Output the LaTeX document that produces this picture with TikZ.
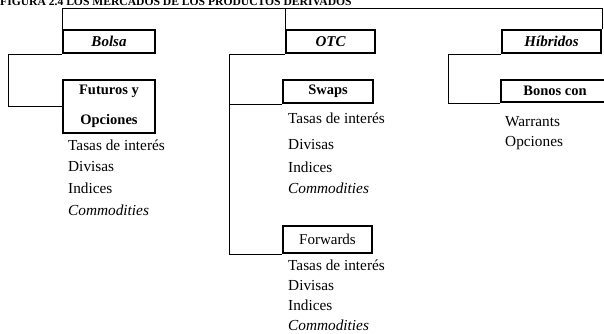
\documentclass[tikz,border=0pt]{standalone}
\usepackage{fontspec}
\setmainfont{Liberation Serif}
\begin{document}
\begin{tikzpicture}[x=1pt,y=-1pt,
  box/.style={draw, line width=2pt, inner sep=0pt, font=\fontsize{14.5}{16}\selectfont\bfseries},
  conn/.style={line width=0.9pt},
  item/.style={anchor=west, inner sep=0pt, font=\fontsize{15.3}{16}\selectfont}]
\useasboundingbox (0,0) rectangle (604,333);
\fill[white] (0,0) rectangle (604,333);
% title (cut at top, as in the reference)
\node[anchor=base west, inner sep=0pt, font=\fontsize{11.6}{12}\selectfont\bfseries] (title) at (0,5) {FIGURA 2.4 LOS MERCADOS DE LOS PRODUCTOS DERIVADOS};
% level 1
\node[box, minimum width=92, minimum height=23, font=\fontsize{15}{16}\selectfont\bfseries\itshape] (bolsa) at (109,41.5) {Bolsa};
\node[box, minimum width=89, minimum height=23, font=\fontsize{15}{16}\selectfont\bfseries\itshape] (otc) at (330.5,41.5) {OTC};
\node[box, minimum width=99, minimum height=23, font=\fontsize{15}{16}\selectfont\bfseries\itshape] (hib) at (551.5,41.5) {Híbridos};
% level 2
\node[box, minimum width=92, minimum height=53, align=center] (fut) at (109,106.5) {Futuros y\\[14pt]Opciones};
\node[box, minimum width=90, minimum height=23] (swaps) at (328,91.5) {Swaps};
\node[box, minimum width=89, minimum height=27, font=\fontsize{15}{16}\selectfont] (fwd) at (327.5,239.5) {Forwards};
\node[box, minimum width=108, minimum height=22, font=\fontsize{14.5}{16}\selectfont\bfseries] (bonos) at (555,91) {Bonos con};
% top connector
\coordinate (t1) at (63,8);
\draw[conn] (bolsa.north west) -- (bolsa.north west |- t1) -- (hib.north east |- t1) -- (hib.north east);
\draw[conn] (otc.north west) -- (otc.north west |- t1);
% Bolsa branch
\coordinate (b1) at (8,0);
\draw[conn] (bolsa.south west) -- (bolsa.south west -| b1) |- (fut.west);
% OTC branch
\coordinate (o1) at (229,0);
\draw[conn] (otc.south west) -- (otc.south west -| o1) |- (fwd.south west);
\draw[conn] (swaps.south west) -- (swaps.south west -| o1);
% Hibridos branch
\coordinate (h1) at (448,0);
\draw[conn] (hib.south west) -- (hib.south west -| h1) |- (bonos.south west);
% lists
\node[item] (f1) at (68,145) {Tasas de interés};
\node[item] (f2) at (68,167) {Divisas};
\node[item] (f3) at (68,188) {Indices};
\node[item] (f4) at (68,210) {\itshape Commodities};
\node[item] (s1) at (288,118) {Tasas de interés};
\node[item] (s2) at (288,145) {Divisas};
\node[item] (s3) at (288,167) {Indices};
\node[item] (s4) at (288,188) {\itshape Commodities};
\node[item] (w1) at (288,265) {Tasas de interés};
\node[item] (w2) at (288,285) {Divisas};
\node[item] (w3) at (288,305) {Indices};
\node[item] (w4) at (288,325) {\itshape Commodities};
\node[item] (h1t) at (505,122) {Warrants};
\node[item] (h2t) at (505,143) {Opciones};
\end{tikzpicture}
\end{document}
